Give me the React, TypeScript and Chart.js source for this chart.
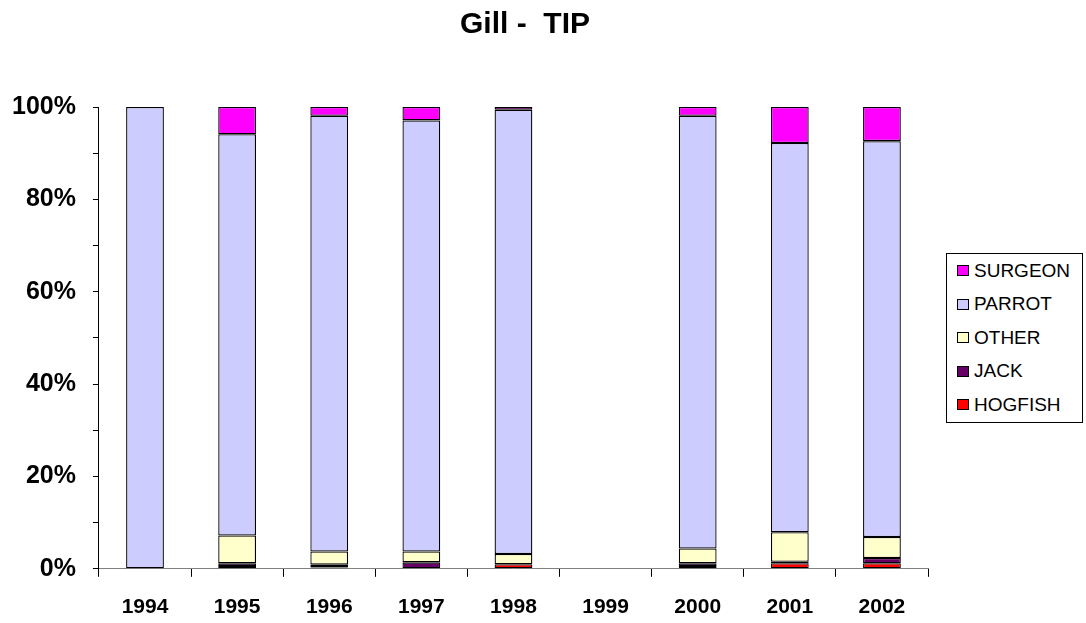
import React, { useEffect, useRef } from 'react';
import { Chart, registerables } from 'chart.js';

Chart.register(...registerables);

const years = ['1994', '1995', '1996', '1997', '1998', '1999', '2000', '2001', '2002'];
const hogfish = [0, 0.6, 0.3, 0, 1.0, null, 0.6, 1.2, 1.2];
const jack = [0, 0.6, 0.6, 1.4, 0, null, 0.6, 0.3, 1.15];
const other = [0, 6.0, 2.85, 2.35, 2.2, null, 3.2, 6.4, 4.55];
const parrot = [100, 86.9, 94.35, 93.35, 96.2, null, 93.7, 84.3, 85.7];
const surgeon = [0, 5.9, 1.9, 2.9, 0.6, null, 1.9, 7.8, 7.4];

const seriesNames = ['HOGFISH', 'JACK', 'OTHER', 'PARROT', 'SURGEON'];
const seriesColors = ['#FF0000', '#660066', '#FFFFCC', '#CCCCFF', '#FF00FF'];
const seriesData = [hogfish, jack, other, parrot, surgeon];

const titleText = 'Gill -  TIP';

const X_TICK_PAD = 18;
const Y_TICK_PAD = 17;
const FONT = '"Liberation Sans", Arial, sans-serif';

export default function App() {
  const canvasRef = useRef<HTMLCanvasElement | null>(null);

  useEffect(() => {
    document.body.style.margin = '0';
    const canvas = canvasRef.current;
    if (!canvas) return;
    const chart = new Chart(canvas, {
      type: 'bar',
      data: {
        labels: years,
        datasets: seriesNames.map((name, i) => ({
          label: name,
          data: seriesData[i],
          backgroundColor: seriesColors[i],
          borderColor: '#000000',
          borderWidth: 1.3,
          borderSkipped: false,
          categoryPercentage: 1,
          barPercentage: 0.41,
        })),
      },
      options: {
        responsive: false,
        animation: false,
        layout: { padding: { left: 12, right: 158, bottom: 3, top: 107 } },
        plugins: {
          legend: { display: false },
          tooltip: { enabled: false },
          title: { display: false },
        },
        scales: {
          x: {
            stacked: true,
            offset: true,
            afterFit: (s: any) => {
              s.height -= X_TICK_PAD;
            },
            grid: {
              display: true,
              drawOnChartArea: false,
              drawTicks: true,
              tickLength: 8,
              color: '#000',
              offset: true,
            },
            border: { display: true, color: '#808080', width: 1 },
            ticks: {
              color: '#000',
              padding: X_TICK_PAD,
              maxRotation: 0,
              font: { family: FONT, size: 21, weight: 'bold' },
            },
          },
          y: {
            stacked: true,
            min: 0,
            max: 100,
            afterFit: (s: any) => {
              s.width -= Y_TICK_PAD;
            },
            grid: {
              display: true,
              drawOnChartArea: false,
              drawTicks: true,
              tickLength: 6,
              color: '#000',
            },
            border: { display: true, color: '#000', width: 1 },
            ticks: {
              stepSize: 10,
              autoSkip: false,
              color: '#000',
              padding: Y_TICK_PAD,
              font: { family: FONT, size: 25, weight: 'bold' },
              callback: (v: any) => (Number(v) % 20 === 0 ? v + '%' : ''),
            },
          },
        },
      },
    });
    return () => chart.destroy();
  }, []);

  const legendOrder = seriesNames.map((n, i) => i).reverse();

  return (
    <div style={{ position: 'relative', width: 1086, height: 623 }}>
      <canvas ref={canvasRef} width={1086} height={623} style={{ display: 'block' }} />
      <div
        style={{
          position: 'absolute',
          left: 0,
          top: 5,
          width: 1050,
          textAlign: 'center',
          fontFamily: FONT,
          fontWeight: 'bold',
          fontSize: 30,
          lineHeight: '36px',
          color: '#000',
          whiteSpace: 'pre',
        }}
      >
        {titleText}
      </div>
      <div
        style={{
          position: 'absolute',
          left: 946,
          top: 253,
          width: 137,
          boxSizing: 'border-box',
          border: '1px solid #000',
          background: '#fff',
          fontFamily: FONT,
          fontSize: 19,
          color: '#000',
        }}
      >
        {legendOrder.map((i) => (
          <div
            key={seriesNames[i]}
            style={{ height: 33.5, display: 'flex', alignItems: 'center', paddingLeft: 10 }}
          >
            <span
              style={{
                display: 'inline-block',
                width: 12,
                height: 11,
                boxSizing: 'border-box',
                border: '1px solid #000',
                background: seriesColors[i],
                marginRight: 5,
              }}
            />
            <span>{seriesNames[i]}</span>
          </div>
        ))}
      </div>
    </div>
  );
}
